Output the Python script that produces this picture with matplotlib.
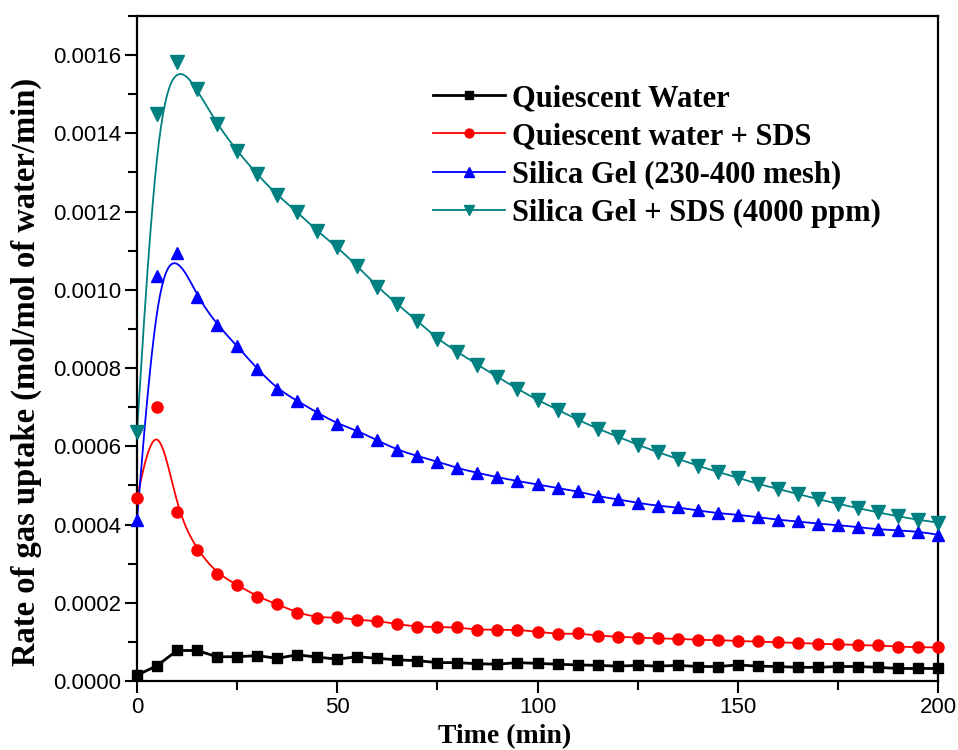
import numpy as np
import matplotlib
matplotlib.use("Agg")
import matplotlib.pyplot as plt
from matplotlib.ticker import FormatStrFormatter, MultipleLocator

# ---- data (rate in units of 1e-4 mol/mol of water/min) ----
time_min = list(range(0, 205, 5))

quiescent_water = [0.15, 0.39, 0.78, 0.78, 0.62, 0.62, 0.65, 0.58, 0.67, 0.61,
                   0.56, 0.62, 0.58, 0.54, 0.52, 0.47, 0.47, 0.44, 0.43, 0.47,
                   0.45, 0.43, 0.41, 0.40, 0.38, 0.40, 0.38, 0.40, 0.37, 0.37,
                   0.41, 0.38, 0.37, 0.35, 0.35, 0.37, 0.37, 0.35, 0.32, 0.32,
                   0.32]

quiescent_sds = [4.68, 7.01, 4.31, 3.35, 2.74, 2.46, 2.16, 1.96, 1.75, 1.62,
                 1.63, 1.56, 1.54, 1.45, 1.39, 1.38, 1.37, 1.31, 1.31, 1.31,
                 1.26, 1.20, 1.22, 1.16, 1.13, 1.11, 1.09, 1.08, 1.05, 1.05,
                 1.02, 1.01, 0.99, 0.97, 0.95, 0.94, 0.92, 0.91, 0.88, 0.86,
                 0.86]

silica_gel = [4.12, 10.35, 10.95, 9.82, 9.11, 8.56, 7.98, 7.47, 7.16, 6.86,
              6.58, 6.40, 6.15, 5.91, 5.75, 5.61, 5.44, 5.32, 5.21, 5.11,
              5.03, 4.93, 4.85, 4.72, 4.65, 4.55, 4.48, 4.44, 4.36, 4.29,
              4.25, 4.19, 4.12, 4.08, 4.02, 3.99, 3.93, 3.88, 3.85, 3.82,
              3.74]

silica_gel_sds = [6.36, 14.49, 15.83, 15.13, 14.23, 13.55, 12.95, 12.42, 11.99, 11.50,
                  11.09, 10.61, 10.08, 9.63, 9.20, 8.75, 8.41, 8.09, 7.77, 7.47,
                  7.18, 6.94, 6.68, 6.45, 6.25, 6.04, 5.85, 5.68, 5.50, 5.35,
                  5.19, 5.04, 4.91, 4.78, 4.65, 4.53, 4.42, 4.31, 4.21, 4.12,
                  4.05]

labels = ["Quiescent Water", "Quiescent water + SDS",
          "Silica Gel (230-400 mesh)", "Silica Gel + SDS (4000 ppm)"]
colors = ["#000000", "#FF0000", "#0000FF", "#008080"]
markers = ["s", "o", "^", "v"]
msizes = [7, 8, 9, 9.5]
smooth = [False, True, True, True]

SCALE = 1e-4


def bspline(x, y, n=20):
    """Clamped uniform cubic B-spline using data points as control points."""
    px = np.concatenate([[x[0]] * 2, x, [x[-1]] * 2])
    py = np.concatenate([[y[0]] * 2, y, [y[-1]] * 2])
    t = np.linspace(0, 1, n, endpoint=False)
    b0 = (1 - t) ** 3 / 6
    b1 = (3 * t ** 3 - 6 * t ** 2 + 4) / 6
    b2 = (-3 * t ** 3 + 3 * t ** 2 + 3 * t + 1) / 6
    b3 = t ** 3 / 6
    xs, ys = [], []
    for i in range(len(px) - 3):
        xs.append(b0 * px[i] + b1 * px[i + 1] + b2 * px[i + 2] + b3 * px[i + 3])
        ys.append(b0 * py[i] + b1 * py[i + 1] + b2 * py[i + 2] + b3 * py[i + 3])
    xs.append([px[-1]])
    ys.append([py[-1]])
    return np.concatenate(xs), np.concatenate(ys)


fig = plt.figure(figsize=(9.58, 7.5), dpi=100)
ax = fig.add_axes([137 / 958, 1 - 681 / 750, (938 - 137) / 958, (681 - 16) / 750])

tx = np.array(time_min, dtype=float)
series = [quiescent_water, quiescent_sds, silica_gel, silica_gel_sds]
for vals, lab, c, m, ms, sm in zip(series, labels, colors, markers, msizes, smooth):
    vy = np.array(vals) * SCALE
    lw = 2.0 if c == "#000000" else 1.3
    if sm:
        cx, cy = bspline(tx, vy)
        ax.plot(cx, cy, color=c, lw=lw, zorder=2)
    else:
        ax.plot(tx, vy, color=c, lw=lw, zorder=2)
    ax.plot(tx, vy, linestyle="none", marker=m, ms=ms, color=c,
            markeredgecolor=c, zorder=3, clip_on=False)
    ax.plot([], [], color=c, lw=lw, marker=m, ms=ms * 0.8, label=lab)

ax.set_xlim(0, 200)
ax.set_ylim(0, 0.0017)
ax.xaxis.set_major_locator(MultipleLocator(50))
ax.xaxis.set_minor_locator(MultipleLocator(25))
ax.yaxis.set_major_locator(MultipleLocator(0.0002))
ax.yaxis.set_minor_locator(MultipleLocator(0.0001))
ax.yaxis.set_major_formatter(FormatStrFormatter("%.4f"))

tickfont = "Liberation Sans"
ax.tick_params(axis="both", which="major", direction="out", length=8.5, width=1.5,
               labelsize=16, pad=3, top=False, right=False)
ax.tick_params(axis="both", which="minor", direction="out", length=6.5, width=1.5,
               top=False, right=False)
for lbl in ax.get_xticklabels() + ax.get_yticklabels():
    lbl.set_fontfamily(tickfont)
for s in ax.spines.values():
    s.set_linewidth(1.6)

ax.set_xlabel("Time (min)", fontfamily="Liberation Serif", fontweight="bold",
              fontsize=20)
ax.xaxis.set_label_coords((505 - 137) / 801, (681 - 724) / 665)
ax.set_ylabel("Rate of gas uptake (mol/mol of water/min)",
              fontfamily="Liberation Serif", fontweight="bold", fontsize=23.5)
ax.yaxis.set_label_coords((42 - 137) / 801, (681 - 372) / 665)

leg = ax.legend(loc="upper left", bbox_to_anchor=((433 - 137) / 801, (681 - 84) / 665),
                frameon=False,
                prop={"family": "Liberation Serif", "weight": "bold", "size": 22},
                handlelength=2.35, handletextpad=0.25, labelspacing=0.3,
                borderpad=0, borderaxespad=0)

fig.savefig("out.png", dpi=100)
